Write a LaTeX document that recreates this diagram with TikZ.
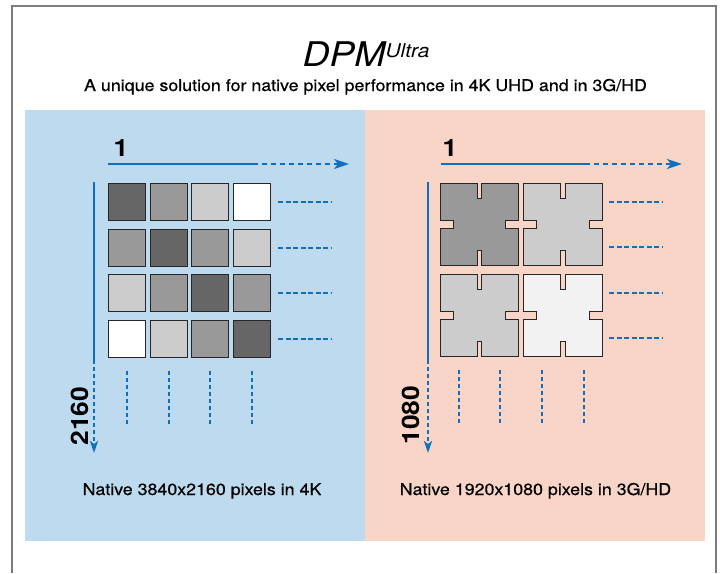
\documentclass[tikz,border=0pt]{standalone}
\usepackage{fontspec}
\setmainfont{TeX Gyre Heros}[FakeStretch=1.1]
\newfontfamily\medfont{TeX Gyre Heros}[FakeStretch=1.1, FakeBold=0.5]
\usetikzlibrary{arrows.meta}

\definecolor{axisblue}{RGB}{16,112,190}
\definecolor{panelblue}{RGB}{190,218,238}
\definecolor{panelpink}{RGB}{249,213,200}
\definecolor{framegray}{RGB}{125,125,125}
\colorlet{pxdark}{black!60}
\colorlet{pxmid}{black!40}
\colorlet{pxlight}{black!20}
\colorlet{pxpale}{black!5}

\tikzset{
  pixel/.style={draw=black!85, line width=0.9pt, minimum size=37pt, inner sep=0pt, anchor=north west},
  pixedge/.style={draw=black!85, line width=0.9pt},
  axisline/.style={axisblue, line width=2.4pt},
  axisdash/.style={axisblue, line width=2.4pt, dash pattern=on 4.5pt off 4.5pt},
  rowdots/.style={axisblue, line width=2pt, dash pattern=on 5pt off 2.5pt},
  coldots/.style={axisblue, line width=2pt, dash pattern=on 4pt off 3pt},
  tipright/.style={-{Stealth[length=15pt,width=10pt,inset=4pt]}},
  tipdown/.style={-{Stealth[length=12pt,width=8pt,inset=3pt]}},
  bignum/.style={font=\bfseries\fontsize{24}{24}\selectfont},
  caption/.style={font=\medfont\fontsize{16.2}{18}\selectfont, anchor=base}
}

% one 2x2 block of the 3G/HD grid: #1 left, #2 top, #3 fill
\newcommand\xblock[3]{%
  \filldraw[pixedge, fill=#3] (#1,#2) -- ++(37,0) -- ++(0,15) -- ++(4.7,0) -- ++(0,-15) -- ++(37,0)
    -- ++(0,37) -- ++(-13,0) -- ++(0,8.6) -- ++(13,0) -- ++(0,37)
    -- ++(-37,0) -- ++(0,-15) -- ++(-4.7,0) -- ++(0,15) -- ++(-37,0)
    -- ++(0,-37) -- ++(13,0) -- ++(0,-8.6) -- ++(-13,0) -- cycle;}

\begin{document}
\begin{tikzpicture}[x=1pt,y=-1pt]
  \useasboundingbox (0,0) rectangle (720,573);
  \fill[white] (0,0) rectangle (720,573);
  \draw[framegray, line width=2.3pt] (12,573) -- (12,6) -- (716,6) -- (716,573);

  % panels
  \fill[panelblue] (25,110) rectangle (365,541);
  \fill[panelpink] (365,110) rectangle (705,541);

  % title
  \node[anchor=base] (title) at (366,66)
    {\fontsize{34}{36}\selectfont\itshape DPM\raisebox{8.5pt}{\fontsize{19}{20}\selectfont Ultra}};
  \node[caption] (subtitle) at (365.5,91)
    {A unique solution for native pixel performance in 4K UHD and in 3G/HD};

  % 4K grid
  \foreach \row [count=\r] in {{pxdark,pxmid,pxlight,white},{pxmid,pxdark,pxmid,pxlight},
      {pxlight,pxmid,pxdark,pxmid},{white,pxlight,pxmid,pxdark}}
    \foreach \f [count=\c] in \row
      \node[pixel, fill=\f] (p\r\c) at ({108+41.7*(\c-1)},{183+45.6*(\r-1)}) {};

  \foreach \r in {1,...,4}
    \draw[rowdots] ([xshift=7pt]p\r4.east) -- ++(53,0);
  \foreach \c in {1,...,4}
    \draw[coldots] ([yshift=-13pt]p4\c.south) -- ++(0,53);

  \coordinate (ha) at (108,164);
  \coordinate (hb) at (253,164);
  \coordinate (hc) at (349,164);
  \coordinate (va) at (94,182);
  \coordinate (vb) at (94,360);
  \coordinate (vc) at (94,453);
  \draw[axisline] (ha) -- (hb);
  \draw[axisdash, tipright] (hb) -- (hc);
  \draw[axisline] (va) -- (vb);
  \draw[axisdash, tipdown, dash pattern=on 4pt off 3pt] (vb) -- (vc);

  \node[bignum, anchor=base] (one4k) at (121,156) {1};
  \node[bignum, rotate=90] (rows4k) at (80,416) {2160};
  \node[caption] (cap4k) at (202,495) {Native 3840x2160 pixels in 4K};

  % 3G/HD grid
  \xblock{440}{183}{pxmid}
  \xblock{523.4}{183}{pxlight}
  \xblock{440}{274.2}{pxlight}
  \xblock{523.4}{274.2}{pxpale}

  \foreach \r in {1,...,4}
    \draw[rowdots] (609,{201.5+45.6*(\r-1)}) -- ++(53,0);
  \foreach \c in {1,...,4}
    \draw[coldots] ({458.5+41.7*(\c-1)},370) -- ++(0,53);

  \coordinate (hd) at (441,164);
  \coordinate (he) at (585,164);
  \coordinate (hf) at (682,164);
  \coordinate (vd) at (428,182);
  \coordinate (ve) at (428,360);
  \coordinate (vf) at (428,453);
  \draw[axisline] (hd) -- (he);
  \draw[axisdash, tipright] (he) -- (hf);
  \draw[axisline] (vd) -- (ve);
  \draw[axisdash, tipdown, dash pattern=on 4pt off 3pt] (ve) -- (vf);

  \node[bignum, anchor=base] (onehd) at (450,156) {1};
  \node[bignum, rotate=90] (rowshd) at (411,415) {1080};
  \node[caption] (caphd) at (535.5,495) {Native 1920x1080 pixels in 3G/HD};
\end{tikzpicture}
\end{document}
